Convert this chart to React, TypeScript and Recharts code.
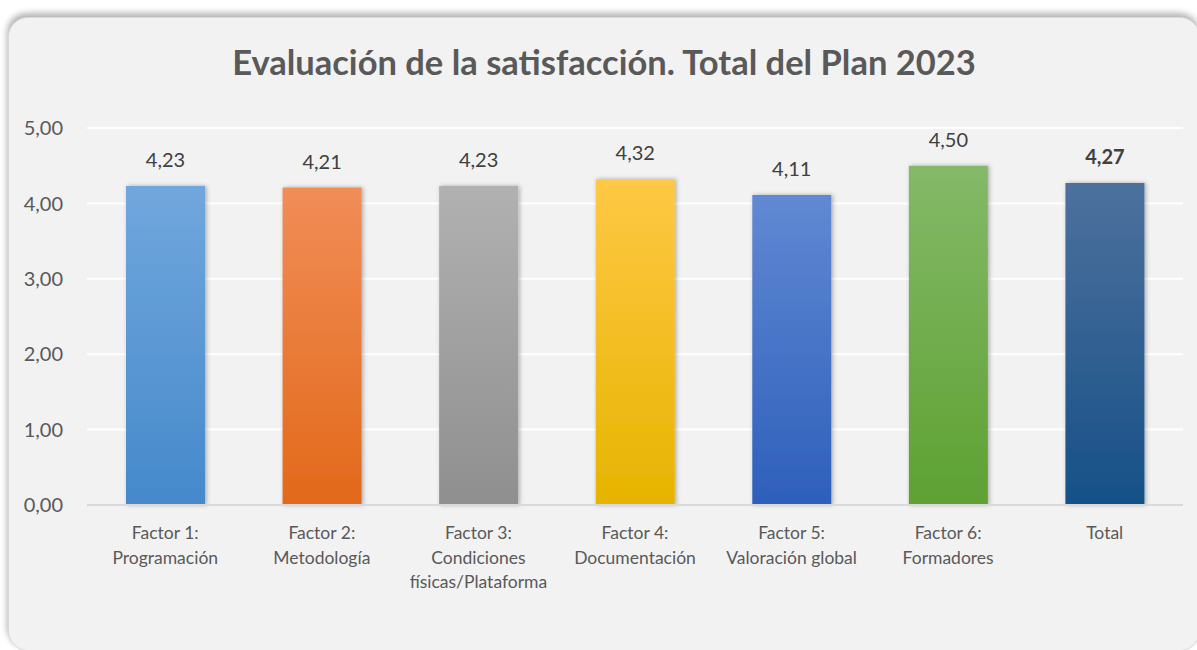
import React from "react";
import { BarChart, Bar, XAxis, YAxis, CartesianGrid, Cell, LabelList } from "recharts";

const categories = [
  "Factor 1:\nProgramación",
  "Factor 2:\nMetodología",
  "Factor 3:\nCondiciones\nfísicas/Plataforma",
  "Factor 4:\nDocumentación",
  "Factor 5:\nValoración global",
  "Factor 6:\nFormadores",
  "Total",
];
const values = [4.23, 4.21, 4.23, 4.32, 4.11, 4.5, 4.27];
const yTicks = [0, 1, 2, 3, 4, 5];
const topColors = ["#71a7dd", "#f18d57", "#b1b1b1", "#ffc845", "#6189d3", "#84b968", "#4d719d"];
const bottomColors = ["#4589cb", "#e2691a", "#8f8f8f", "#e6b400", "#2d5fbb", "#5ea132", "#165087"];
const title = "Evaluación de la satisfacción. Total del Plan 2023";

const data = categories.map((c, i) => ({ name: c, value: values[i] }));

const FONT = "Lato, 'Open Sans', sans-serif";
const fmt = (v: number) => v.toFixed(2).replace(".", ",");

const XTick = (props: any) => {
  const { x, y, payload } = props;
  const lines = String(payload.value).split("\n");
  return (
    <text x={x} y={y + 26} textAnchor="middle" fill="#595959" fontSize={17.5} fontFamily={FONT}>
      {lines.map((l, i) => (
        <tspan key={i} x={x} dy={i === 0 ? 0 : 24.5}>
          {l}
        </tspan>
      ))}
    </text>
  );
};

const ValueLabel = (props: any) => {
  const { x, y, width, value, index } = props;
  const isTotal = index === values.length - 1;
  return (
    <text
      x={x + width / 2}
      y={y - 19}
      textAnchor="middle"
      fill="#404040"
      fontSize={20}
      fontWeight={isTotal ? 700 : 400}
      fontFamily={FONT}
    >
      {fmt(Number(value))}
    </text>
  );
};

export default function App() {
  return (
    <div style={{ position: "fixed", left: 0, top: 0, width: 1197, height: 650, overflow: "hidden", background: "#ffffff" }}>
      <div
        style={{
          position: "absolute",
          left: 8,
          top: 17,
          width: 1190,
          height: 632,
          borderRadius: 20,
          background: "#f2f2f2",
          border: "1px solid #d9d9d9",
          boxShadow: "-1px -4px 6px rgba(0,0,0,0.3)",
        }}
      />
      <div
        style={{
          position: "absolute",
          left: 0,
          top: 41,
          width: 1208,
          textAlign: "center",
          fontFamily: FONT,
          fontWeight: 700,
          fontSize: 34.5,
          color: "#595959",
          lineHeight: "42px",
        }}
      >
        {title}
      </div>
      <div style={{ position: "absolute", left: 0, top: 0 }}>
        <BarChart width={1197} height={650} data={data} margin={{ top: 128, right: 14, bottom: 0, left: 0 }}>
          <defs>
            {values.map((_, i) => (
              <linearGradient key={i} id={`g${i}`} x1="0" y1="0" x2="0" y2="1">
                <stop offset="0%" stopColor={topColors[i]} />
                <stop offset="100%" stopColor={bottomColors[i]} />
              </linearGradient>
            ))}
            <filter id="shadow" x="-20%" y="-5%" width="140%" height="110%">
              <feDropShadow dx="1.5" dy="0" stdDeviation="2" floodColor="#000" floodOpacity="0.3" />
            </filter>
          </defs>
          <CartesianGrid vertical={false} stroke="#ffffff" strokeWidth={2} />
          <XAxis
            dataKey="name"
            interval={0}
            tickLine={false}
            axisLine={{ stroke: "#d9d9d9", strokeWidth: 2 }}
            tick={<XTick />}
            height={145}
          />
          <YAxis
            domain={[0, 5]}
            ticks={yTicks}
            width={87}
            tickLine={false}
            axisLine={false}
            tickMargin={18}
            tickFormatter={fmt}
            tick={{ fill: "#595959", fontSize: 20, fontFamily: FONT }}
          />
          <Bar dataKey="value" barSize={79} isAnimationActive={false} filter="url(#shadow)">
            {values.map((_, i) => (
              <Cell key={i} fill={`url(#g${i})`} />
            ))}
            <LabelList dataKey="value" content={<ValueLabel />} />
          </Bar>
        </BarChart>
      </div>
    </div>
  );
}
